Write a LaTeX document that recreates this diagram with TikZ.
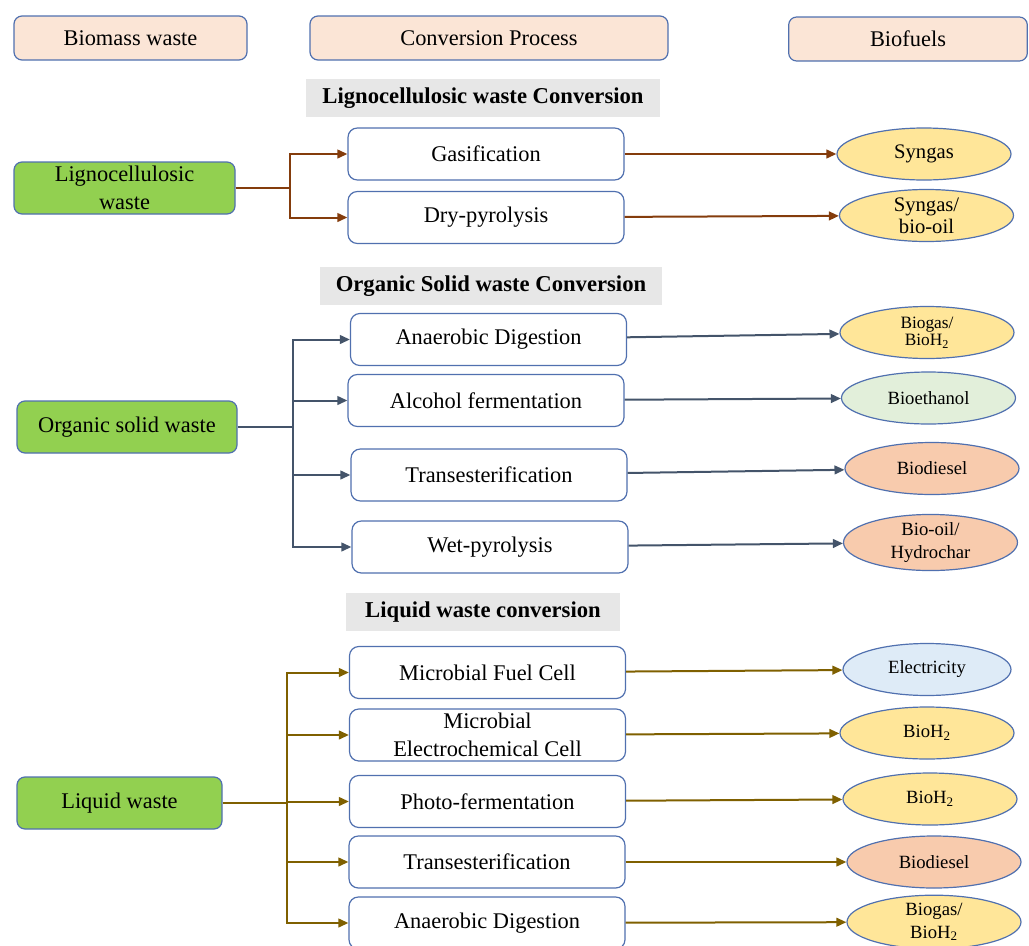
\documentclass[tikz,border=0pt]{standalone}
\usepackage{fontspec}
\setmainfont{Liberation Serif}
\usetikzlibrary{arrows.meta,shapes.geometric}
\definecolor{head_fill}{RGB}{251,229,214}
\definecolor{box_edge}{RGB}{80,112,175}
\definecolor{waste_green}{RGB}{146,208,80}
\definecolor{title_gray}{RGB}{231,231,231}
\definecolor{fuel_yellow}{RGB}{255,230,153}
\definecolor{fuel_green}{RGB}{226,239,218}
\definecolor{fuel_red}{RGB}{248,203,173}
\definecolor{fuel_blue}{RGB}{222,235,247}
\definecolor{edge_brown}{RGB}{132,60,12}
\definecolor{edge_slate}{RGB}{68,84,106}
\definecolor{edge_olive}{RGB}{127,96,0}

\begin{document}
\begin{tikzpicture}[x=0.75pt,y=-0.75pt,>={Triangle[length=7.5pt,width=6.5pt]}]
    \tikzstyle{head}=[draw=box_edge, line width=0.9pt, rounded corners=6pt, fill=head_fill, minimum height=33pt, inner sep=0pt, font=\fontsize{16.8}{20}\selectfont]
    \tikzstyle{sect}=[fill=title_gray, minimum height=29pt, inner sep=0pt, font=\bfseries\fontsize{17}{20}\selectfont]
    \tikzstyle{wst}=[draw=box_edge, line width=0.9pt, rounded corners=6pt, fill=waste_green, minimum width=165pt, minimum height=39pt, inner sep=0pt, align=center, font=\fontsize{16.8}{21}\selectfont]
    \tikzstyle{prc}=[draw=box_edge, line width=0.9pt, rounded corners=7pt, fill=white, minimum width=207pt, minimum height=39pt, inner sep=0pt, align=center, font=\fontsize{16.8}{21}\selectfont]
    \tikzstyle{fuel}=[ellipse, draw=box_edge, line width=0.9pt, fill=fuel_yellow, minimum width=130.5pt, minimum height=39pt, inner sep=0pt, align=center, font=\fontsize{14}{17}\selectfont]
    \tikzstyle{fuelbig}=[fuel, font=\fontsize{15.5}{18.5}\selectfont]
    \tikzstyle{link}=[->, line width=1.5pt]
    \useasboundingbox (0,0) rectangle (1029,946);

    % column heads
    \node[head, minimum width=174.75pt] (hw) at (130.5,38) {Biomass waste};
    \node[head, minimum width=268.5pt]  (hc) at (489,38)   {Conversion Process};
    \node[head, minimum width=179pt]    (hf) at (908,39)   {Biofuels};

    % section titles
    \node[sect, minimum width=265.5pt] (t1) at (483,98)  {Lignocellulosic waste Conversion};
    \node[sect, minimum width=256.5pt] (t2) at (491,286) {Organic Solid waste Conversion};
    \node[sect, minimum width=205.5pt] (t3) at (483,612) {Liquid waste conversion};

    % waste sources
    \node[wst, minimum width=165.75pt] (lig) at (124.5,188) {Lignocellulosic\\waste};
    \node[wst]                         (org) at (127,427)   {Organic solid waste};
    \node[wst, minimum width=153.75pt] (liq) at (119.5,803) {Liquid waste};

    % processes
    \node[prc] (gas) at (486,154)     {Gasification};
    \node[prc] (dry) at (486,217.5)   {Dry-pyrolysis};
    \node[prc] (ad1) at (488.5,339.5) {Anaerobic Digestion};
    \node[prc] (alc) at (486,400.5)   {Alcohol fermentation};
    \node[prc] (tr1) at (489,475)     {Transesterification};
    \node[prc] (wet) at (490,547)     {Wet-pyrolysis};
    \node[prc] (mfc) at (487.5,672.5) {Microbial Fuel Cell};
    \node[prc] (mec) at (487.5,735)   {Microbial\\Electrochemical Cell};
    \node[prc] (pho) at (487.5,801.5) {Photo-fermentation};
    \node[prc] (tr2) at (487,862)     {Transesterification};
    \node[prc] (ad2) at (487,923)     {Anaerobic Digestion};

    % biofuels
    \node[fuelbig] (syn) at (924,154)     {Syngas};
    \node[fuelbig] (sbo) at (926.5,215.5) {Syngas/\\[-2pt]bio-oil};
    \node[fuel,font=\fontsize{13}{16}\selectfont] (bg1) at (927,332.5) {Biogas/\\[-3pt]BioH\textsubscript{2}};
    \node[fuel,fill=fuel_green] (eth) at (928.5,398) {Bioethanol};
    \node[fuel,fill=fuel_red]   (bd1) at (932,468.5) {Biodiesel};
    \node[fuel,fill=fuel_red]   (boh) at (930.5,542.5) {Bio-oil/\\Hydrochar};
    \node[fuel,fill=fuel_blue,minimum width=126pt] (ele) at (927,669.5) {Electricity};
    \node[fuel] (h1)  at (927,733) {BioH\textsubscript{2}};
    \node[fuel] (h2)  at (930,799) {BioH\textsubscript{2}};
    \node[fuel,fill=fuel_red] (bd2) at (934,862) {Biodiesel};
    \node[fuel] (bg2) at (934,922) {Biogas/\\BioH\textsubscript{2}};

    % branch points
    \coordinate (b1) at (290,188);
    \coordinate (b2) at (293,427);
    \coordinate (b3) at (287,803);

    \draw[link,-,edge_brown] (lig) -- (b1);
    \draw[link,edge_brown] (b1) |- (gas);
    \draw[link,edge_brown] (b1) |- (dry);
    \path[link,edge_brown]
     (gas) edge (syn)
     (dry) edge (sbo);

    \draw[link,-,edge_slate] (org) -- (b2);
    \draw[link,edge_slate] (b2) |- (ad1);
    \draw[link,edge_slate] (b2) |- (alc);
    \draw[link,edge_slate] (b2) |- (tr1);
    \draw[link,edge_slate] (b2) |- (wet);
    \path[link,edge_slate]
     (ad1) edge (bg1)
     (alc) edge (eth)
     (tr1) edge (bd1)
     (wet) edge (boh);

    \draw[link,-,edge_olive] (liq) -- (b3);
    \draw[link,edge_olive] (b3) |- (mfc);
    \draw[link,edge_olive] (b3) |- (mec);
    \draw[link,edge_olive] (b3) |- (pho);
    \draw[link,edge_olive] (b3) |- (tr2);
    \draw[link,edge_olive] (b3) |- (ad2);
    \path[link,edge_olive]
     (mfc) edge (ele)
     (mec) edge (h1)
     (pho) edge (h2)
     (tr2) edge (bd2)
     (ad2) edge (bg2);
\end{tikzpicture}
\end{document}
